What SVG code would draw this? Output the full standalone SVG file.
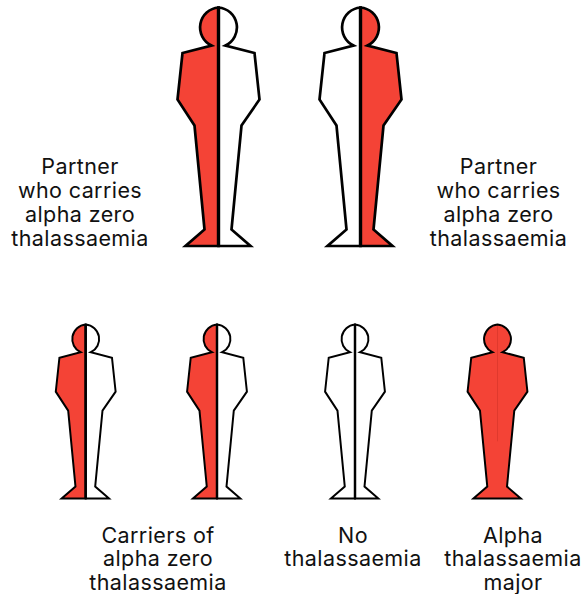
<svg xmlns="http://www.w3.org/2000/svg" xmlns:xlink="http://www.w3.org/1999/xlink" width="585" height="594" viewBox="0 0 585 594">
<style>
text{font-family:Inter,"Liberation Sans",sans-serif;font-size:21.500px;letter-spacing:.4px;fill:#111;text-anchor:middle}
.o{stroke:#000;stroke-width:2.700;stroke-linejoin:miter;stroke-miterlimit:3}
.r{fill:#f44336}.w{fill:#fff}
.c{stroke:#000;stroke-width:3.400;fill:none}
.f{stroke:#d9362b;stroke-width:1;fill:none}
</style>
<defs>
<path id="L" d="M0,0 A20,20 0 0 0 -7,38 L-36,45.500 L-41,92 L-24,118 L-14,222 L-33,238.500 L0,238.500 Z"/>
<path id="R" d="M0,0 A20,20 0 0 1 7,38 L36,45.500 L41,92 L23,118 L13,222 L32,238.500 L0,238.500 Z"/>
<path id="B" d="M0,0 A20,20 0 0 0 -7,38 L-36,45.500 L-41,92 L-24,118 L-14,222 L-33,238.500 L32,238.500 L13,222 L23,118 L41,92 L36,45.500 L7,38 A20,20 0 0 0 0,0 Z"/>
</defs>
<g id="partner-left" transform="translate(218.500,7.500)"><use xlink:href="#L" class="r o"/><use xlink:href="#R" class="w o"/><path class="c" d="M0,0V239"/></g>
<g id="partner-right" transform="translate(360.500,7.500)"><use xlink:href="#L" class="w o"/><use xlink:href="#R" class="r o"/><path class="c" d="M0,0V239"/></g>
<g id="child-1" transform="translate(85.700,324.500) scale(.73)"><use xlink:href="#L" class="r o"/><use xlink:href="#R" class="w o"/><path class="c" d="M0,0V239"/></g>
<g id="child-2" transform="translate(217,324.500) scale(.73)"><use xlink:href="#L" class="r o"/><use xlink:href="#R" class="w o"/><path class="c" d="M0,0V239"/></g>
<g id="child-3" transform="translate(355,324.500) scale(.73)"><use xlink:href="#L" class="w o"/><use xlink:href="#R" class="w o"/><path class="c" d="M0,0V239"/></g>
<g id="child-4" transform="translate(497.500,324.500) scale(.73)"><use xlink:href="#B" class="r o"/><path class="f" d="M0,2V160"/></g>
<g id="connectors"/>
<g id="labels">
<text x="80" y="174">Partner</text><text x="80" y="198">who carries</text><text x="80" y="222">alpha zero</text><text x="80" y="245.500">thalassaemia</text>
<text x="498.500" y="174">Partner</text><text x="498.500" y="198">who carries</text><text x="498.500" y="222">alpha zero</text><text x="498.500" y="245.500">thalassaemia</text>
<text x="158" y="542.500">Carriers of</text><text x="158" y="566">alpha zero</text><text x="158" y="589.500">thalassaemia</text>
<text x="353" y="542.500">No</text><text x="353" y="566">thalassaemia</text>
<text x="513" y="542.500">Alpha</text><text x="513" y="566">thalassaemia</text><text x="513" y="589.500">major</text>
</g>
</svg>
